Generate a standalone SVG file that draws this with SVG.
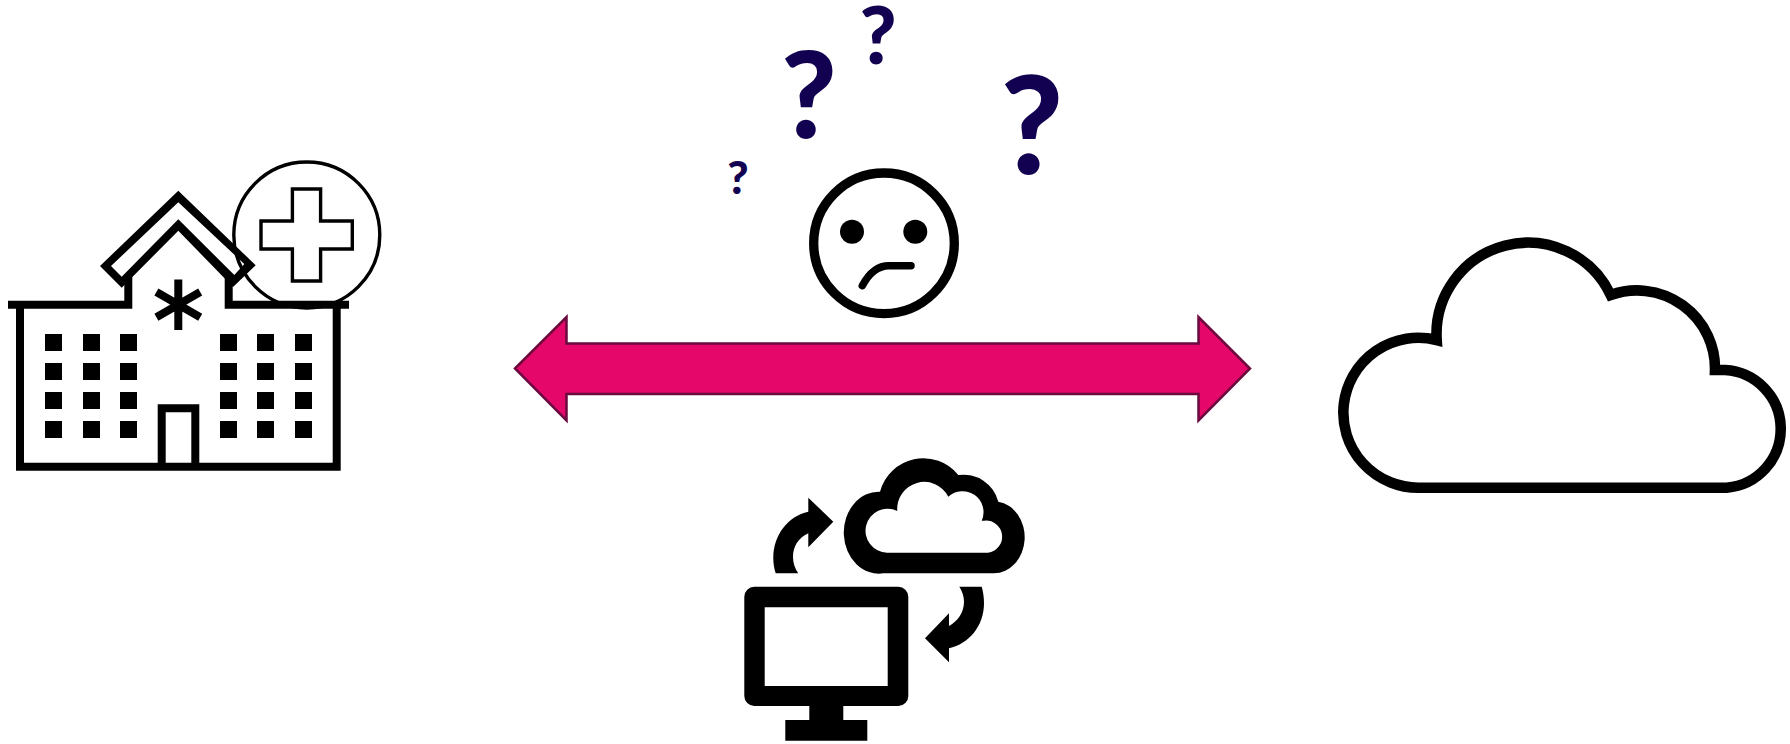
<svg xmlns="http://www.w3.org/2000/svg" width="1790" height="744" viewBox="0 0 1790 744">
<style>
.k{fill:#000}
.s{fill:none;stroke:#000;stroke-miterlimit:10}
.q{fill:#120050;font-family:"Lato","Noto Sans",sans-serif;font-weight:900;text-anchor:middle}
</style>
<rect width="1790" height="744" fill="#fff"/>
<g id="connectors">
<path d="M515 368.5L566.5 317V343.5H1198.5V317L1250 368.5L1198.5 420.5V394H566.5V420.5Z" fill="#e6076b" stroke="#6a0a3f" stroke-width="2.5"/>
</g>
<g id="hospital">
<path class="s" stroke-width="8" d="M8 304.7H128.3V276M228.7 276V304.7H349M20 304.7V466.7H336.7V304.7M161.7 466.7V408.3H195.3V466.7"/>
<path class="k" fill-rule="evenodd" d="M178.3 190.7L255.7 265.3L233 287L178.3 230.7L121.7 287.7L100 266ZM178.3 202.3L111 266L121.7 276.7L178.3 219.3L234.3 275L244.3 264Z"/>
<g class="s" stroke-width="8"><path d="M178.3 279.5V330M156.4 292L200.2 317.3M156.4 317.3L200.2 292"/></g>
<path class="k" d="M45 334h17v17h-17zM83 334h17v17h-17zM120 334h17v17h-17zM220 334h17v17h-17zM257 334h17v17h-17zM295 334h17v17h-17zM45 363h17v17h-17zM83 363h17v17h-17zM120 363h17v17h-17zM220 363h17v17h-17zM257 363h17v17h-17zM295 363h17v17h-17zM45 392h17v17h-17zM83 392h17v17h-17zM120 392h17v17h-17zM220 392h17v17h-17zM257 392h17v17h-17zM295 392h17v17h-17zM45 421h17v17h-17zM83 421h17v17h-17zM120 421h17v17h-17zM220 421h17v17h-17zM257 421h17v17h-17zM295 421h17v17h-17z"/>
<circle class="s" cx="306.8" cy="235" r="73" stroke-width="3.4"/>
<path class="s" stroke-width="3.4" d="M292.4 189H320.6V221H352.3V249H320.6V281H292.4V249H261V221H292.4Z"/>
</g>
<g id="confused-face">
<circle class="s" cx="884" cy="243.3" r="70.3" stroke-width="9.3"/>
<circle class="k" cx="852" cy="231.7" r="12"/>
<circle class="k" cx="915.3" cy="231.7" r="12"/>
<path d="M862.3 285.7C868 275 877 265.7 889 265.7H911" fill="none" stroke="#000" stroke-width="7.5" stroke-linecap="round"/>
<text class="q" x="1032" y="174" font-size="135">?</text>
<text class="q" x="809" y="137.7" font-size="120">?</text>
<text class="q" x="878" y="64" font-size="80">?</text>
<text class="q" x="738" y="194" font-size="46">?</text>
</g>
<g id="big-cloud">
<path class="s" stroke-width="10.6" d="M1420 487.7A75 75 0 1 1 1436.7 340A91.5 91.5 0 0 1 1610.7 295A78 78 0 0 1 1715 370H1725A59 59 0 0 1 1726.7 487.7Z"/>
</g>
<g id="computer-sync">
<path class="k" fill-rule="evenodd" d="M883.5 573.3A35 41 0 1 1 880 491.7A44.8 44.8 0 0 1 958.3 475A36 36 0 0 1 998.3 501.7A31 36 0 0 1 994 573.3ZM887 552.7H988A16 16 0 0 0 984 520.7H981.7A21 21 0 0 0 948.3 496.7A27 27 0 0 0 897.3 511A22 22 0 1 0 887 552.7Z"/>
<path class="k" fill-rule="evenodd" d="M754.3 586.7H898.3A10 10 0 0 1 908.3 596.7V696A10 10 0 0 1 898.3 706H843.3V720H867.3V740.7H785.3V720H809.3V706H754.3A10 10 0 0 1 744.3 696V596.7A10 10 0 0 1 754.3 586.7ZM764.7 607.3V686H887.7V607.3Z"/>
<path class="k" d="M808.3 497.7L833.3 521.7L808.3 547.3V533.3C798 538 793 547 793 557C793 563 795 569 798.3 573.3H775.7C774 568 773.3 563 773.3 558C773.3 535 788 516 808.3 511.7Z"/>
<path class="k" d="M949 662.3L925 638.3L949 613.3V626C958 621 964 612 964 601.7C964 596 962 591 959.3 586.7H981.7C983 591 984 597 984 603.3C984 626 969 644 949 648.3Z"/>
</g>
</svg>
